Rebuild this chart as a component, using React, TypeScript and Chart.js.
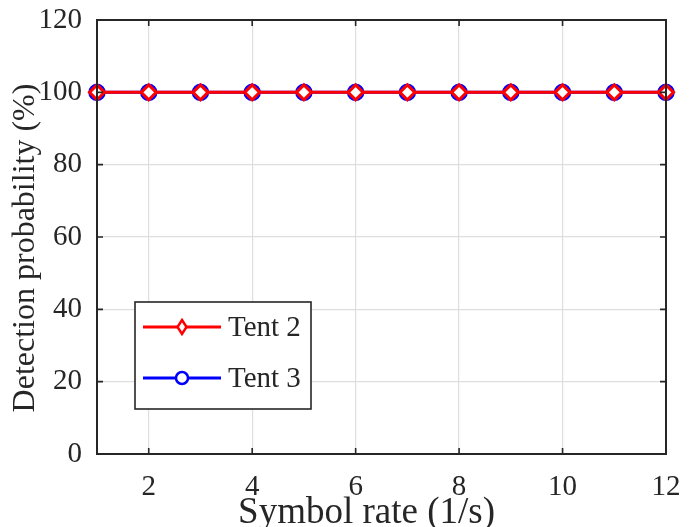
import React, { useEffect, useRef } from 'react';
import { Chart, registerables } from 'chart.js';

Chart.register(...registerables);

const symbolRates = [1, 2, 3, 4, 5, 6, 7, 8, 9, 10, 11, 12];
const tent2 = [100, 100, 100, 100, 100, 100, 100, 100, 100, 100, 100, 100];
const tent3 = [100, 100, 100, 100, 100, 100, 100, 100, 100, 100, 100, 100];
const seriesLabels = ['Tent 2', 'Tent 3'];
const xTicks = [2, 4, 6, 8, 10, 12];
const yTicks = [0, 20, 40, 60, 80, 100, 120];
const xTitle = 'Symbol rate (1/s)';
const yTitle = 'Detection probability (%)';

const FONT = '"Liberation Serif", serif';
const TEXT = '#262626';

const drawMarker = (ctx: CanvasRenderingContext2D, style: string, x: number, y: number, color: string) => {
  ctx.save();
  ctx.strokeStyle = color;
  ctx.fillStyle = '#ffffff';
  ctx.beginPath();
  if (style === 'circle') {
    ctx.lineWidth = 2.5;
    ctx.arc(x, y, 6, 0, Math.PI * 2);
  } else {
    ctx.lineWidth = 2.5;
    ctx.moveTo(x, y - 7);
    ctx.lineTo(x + 4.5, y);
    ctx.lineTo(x, y + 7);
    ctx.lineTo(x - 4.5, y);
    ctx.closePath();
  }
  ctx.fill();
  ctx.stroke();
  ctx.restore();
};

const framePlugin = {
  id: 'frame',
  afterDatasetsDraw(chart: any) {
    const { ctx, chartArea, scales } = chart;
    const { left, right, top, bottom } = chartArea;
    const x = scales.x;
    const y = scales.y;
    ctx.save();
    ctx.strokeStyle = TEXT;
    ctx.lineWidth = 1.6;
    ctx.beginPath();
    for (const v of xTicks) {
      const px = x.getPixelForValue(v);
      ctx.moveTo(px, bottom);
      ctx.lineTo(px, bottom - 6);
      ctx.moveTo(px, top);
      ctx.lineTo(px, top + 6);
    }
    for (const v of yTicks) {
      const py = y.getPixelForValue(v);
      ctx.moveTo(left, py);
      ctx.lineTo(left + 6, py);
      ctx.moveTo(right, py);
      ctx.lineTo(right - 6, py);
    }
    ctx.stroke();
    ctx.lineWidth = 2;
    ctx.strokeRect(left, top, right - left, bottom - top);

    // axis titles
    ctx.fillStyle = TEXT;
    ctx.font = `37px ${FONT}`;
    ctx.textAlign = 'center';
    ctx.textBaseline = 'middle';
    ctx.fillText(xTitle, (left + right) / 2 - 15, bottom + 59);

    ctx.save();
    ctx.translate(left - 71, (top + bottom) / 2 + 11);
    ctx.rotate(-Math.PI / 2);
    ctx.font = `32px ${FONT}`;
    ctx.fillText(yTitle, 0, 0);
    ctx.restore();

    // legend box
    const bx = left + 38;
    const by = top + 282;
    const bw = 176;
    const bh = 107;
    ctx.fillStyle = '#ffffff';
    ctx.fillRect(bx, by, bw, bh);
    ctx.lineWidth = 1.6;
    ctx.strokeStyle = TEXT;
    ctx.strokeRect(bx, by, bw, bh);
    const rows = [by + 25, by + 76];
    chart.data.datasets.forEach((ds: any, i: number) => {
      const ry = rows[i];
      ctx.strokeStyle = ds.borderColor;
      ctx.lineWidth = 3;
      ctx.beginPath();
      ctx.moveTo(bx + 8, ry);
      ctx.lineTo(bx + 86, ry);
      ctx.stroke();
      drawMarker(ctx, ds.pointStyle, bx + 47, ry, ds.borderColor);
      ctx.fillStyle = TEXT;
      ctx.font = `29px ${FONT}`;
      ctx.textBaseline = 'middle';
      ctx.textAlign = 'left';
      ctx.fillText(ds.label, bx + 93, ry + 1);
    });
    ctx.restore();
  },
};

export default function App() {
  const ref = useRef<HTMLCanvasElement | null>(null);

  useEffect(() => {
    document.body.style.margin = '0';
    if (!ref.current) return;
    const chart = new Chart(ref.current, {
      type: 'line',
      data: {
        datasets: [
          {
            label: seriesLabels[0],
            data: symbolRates.map((r, i) => ({ x: r, y: tent2[i] })),
            borderColor: '#ff0000',
            backgroundColor: '#ffffff',
            borderWidth: 3,
            pointStyle: 'rectRot',
            pointRadius: 7.5,
            pointBorderWidth: 3,
            pointBackgroundColor: '#ffffff',
            pointBorderColor: '#ff0000',
            clip: false as any,
          },
          {
            label: seriesLabels[1],
            data: symbolRates.map((r, i) => ({ x: r, y: tent3[i] })),
            borderColor: '#0000ff',
            backgroundColor: '#ffffff',
            borderWidth: 3,
            pointStyle: 'circle',
            pointRadius: 7.5,
            pointBorderWidth: 2.5,
            pointBackgroundColor: '#ffffff',
            pointBorderColor: '#0000ff',
            clip: false as any,
          },
        ],
      },
      options: {
        responsive: false,
        animation: false,
        devicePixelRatio: 1,
        layout: { padding: { top: 20, right: 28, left: 0, bottom: 0 } },
        plugins: {
          legend: { display: false },
          tooltip: { enabled: false },
        },
        scales: {
          x: {
            type: 'linear',
            min: 1,
            max: 12,
            afterBuildTicks: (scale: any) => {
              scale.ticks = xTicks.map((v) => ({ value: v }));
            },
            afterFit: (scale: any) => {
              scale.height = 73;
              scale.paddingLeft = 0;
              scale.paddingRight = 0;
            },
            grid: { color: '#dedede', lineWidth: 1.2, drawTicks: false },
            border: { display: false },
            ticks: {
              padding: 16,
              maxRotation: 0,
              autoSkip: false,
              color: TEXT,
              font: { family: FONT, size: 29 },
            },
            title: { display: false, text: xTitle },
          },
          y: {
            type: 'linear',
            min: 0,
            max: 120,
            afterBuildTicks: (scale: any) => {
              scale.ticks = yTicks.map((v) => ({ value: v }));
            },
            afterFit: (scale: any) => {
              scale.width = 97;
              scale.paddingTop = 0;
              scale.paddingBottom = 0;
            },
            grid: { color: '#dedede', lineWidth: 1.2, drawTicks: false },
            border: { display: false },
            ticks: {
              padding: 15,
              color: TEXT,
              font: { family: FONT, size: 29 },
            },
            title: { display: false, text: yTitle },
          },
        },
      },
      plugins: [framePlugin],
    });
    return () => chart.destroy();
  }, []);

  return (
    <div style={{ position: 'absolute', left: 0, top: 0, width: 694, height: 527 }}>
      <canvas ref={ref} width={694} height={527} style={{ width: 694, height: 527, display: 'block' }} />
    </div>
  );
}
